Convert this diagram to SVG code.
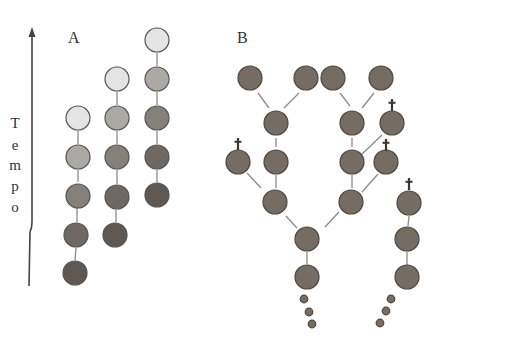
<svg xmlns="http://www.w3.org/2000/svg" width="510" height="342" viewBox="0 0 510 342">
<defs>
<style>
.lbl{font-family:"Liberation Serif",serif;font-size:16px;fill:#333}
.ax{font-family:"Liberation Serif",serif;font-size:15px;fill:#333;text-anchor:middle}
.n{stroke:#555;stroke-width:1.2}
.b{fill:#756c64;stroke:#4e4741;stroke-width:1.2}
.c1{fill:#e4e4e4}.c2{fill:#aca9a5}.c3{fill:#858079}.c4{fill:#6f6862}.c5{fill:#5f5852}
.ln{stroke:#8a8a8a;stroke-width:1.3;fill:none}
.dg{fill:#3c3632}
</style>
<symbol id="dag" viewBox="-4 -6 8 12" overflow="visible">
<rect x="-1.1" y="-6" width="2.2" height="12"/>
<rect x="-3.5" y="-3.2" width="7" height="2"/>
</symbol>
</defs>
<rect width="510" height="342" fill="#fff"/>
<g id="time-axis">
<path d="M32 36 L32 222 Q32 228 30 232 L29 286" stroke="#444" stroke-width="1.6" fill="none"/>
<polygon points="32,27 28.5,37 35.5,37" fill="#444"/>
<text class="ax" x="15" y="128">T</text>
<text class="ax" x="15" y="150">e</text>
<text class="ax" x="15" y="170">m</text>
<text class="ax" x="15" y="191">p</text>
<text class="ax" x="15" y="212">o</text>
</g>
<text class="lbl" x="68" y="43">A</text>
<text class="lbl" x="237" y="43">B</text>
<g id="connectors">
<line class="ln" x1="78" y1="131" x2="78" y2="144"/>
<line class="ln" x1="78" y1="170" x2="78" y2="182"/>
<line class="ln" x1="77" y1="208" x2="77" y2="222"/>
<line class="ln" x1="76" y1="248" x2="75" y2="260"/>
<line class="ln" x1="117" y1="92" x2="117" y2="105"/>
<line class="ln" x1="117" y1="131" x2="117" y2="144"/>
<line class="ln" x1="117" y1="170" x2="117" y2="184"/>
<line class="ln" x1="116" y1="210" x2="116" y2="222"/>
<line class="ln" x1="157" y1="53" x2="157" y2="66"/>
<line class="ln" x1="157" y1="92" x2="157" y2="105"/>
<line class="ln" x1="157" y1="131" x2="157" y2="144"/>
<line class="ln" x1="157" y1="170" x2="157" y2="182"/>
<line class="ln" x1="258" y1="93" x2="269" y2="108"/>
<line class="ln" x1="299" y1="93" x2="284" y2="108"/>
<line class="ln" x1="340" y1="93" x2="350" y2="106"/>
<line class="ln" x1="374" y1="93" x2="362" y2="108"/>
<line class="ln" x1="276" y1="138" x2="276" y2="147"/>
<line class="ln" x1="352" y1="138" x2="352" y2="147"/>
<line class="ln" x1="382" y1="135" x2="362" y2="154"/>
<line class="ln" x1="247" y1="173" x2="261" y2="188"/>
<line class="ln" x1="276" y1="175" x2="276" y2="188"/>
<line class="ln" x1="352" y1="175" x2="352" y2="188"/>
<line class="ln" x1="378" y1="174" x2="362" y2="192"/>
<line class="ln" x1="286" y1="216" x2="297" y2="228"/>
<line class="ln" x1="339" y1="212" x2="325" y2="227"/>
<line class="ln" x1="307" y1="252" x2="307" y2="264"/>
<line class="ln" x1="409" y1="216" x2="408" y2="226"/>
<line class="ln" x1="407" y1="252" x2="407" y2="265"/>
</g>
<g id="col1">
<circle class="n c1" cx="78" cy="118" r="12"/>
<circle class="n c2" cx="78" cy="157" r="12"/>
<circle class="n c3" cx="78" cy="196" r="12"/>
<circle class="n c4" cx="76" cy="235" r="12"/>
<circle class="n c5" cx="75" cy="273" r="12"/>
</g>
<g id="col2">
<circle class="n c1" cx="117" cy="79" r="12"/>
<circle class="n c2" cx="117" cy="118" r="12"/>
<circle class="n c3" cx="117" cy="157" r="12"/>
<circle class="n c4" cx="117" cy="197" r="12"/>
<circle class="n c5" cx="115" cy="235" r="12"/>
</g>
<g id="col3">
<circle class="n c1" cx="157" cy="40" r="12"/>
<circle class="n c2" cx="157" cy="79" r="12"/>
<circle class="n c3" cx="157" cy="118" r="12"/>
<circle class="n c4" cx="157" cy="157" r="12"/>
<circle class="n c5" cx="157" cy="195" r="12"/>
</g>
<g id="b1"><circle class="b" cx="250" cy="78" r="12"/></g>
<g id="b2"><circle class="b" cx="306" cy="78" r="12"/></g>
<g id="b3"><circle class="b" cx="333" cy="78" r="12"/></g>
<g id="b4"><circle class="b" cx="381" cy="78" r="12"/></g>
<g id="b5"><circle class="b" cx="276" cy="123" r="12"/></g>
<g id="b6"><circle class="b" cx="352" cy="123" r="12"/></g>
<g id="b7"><circle class="b" cx="392" cy="123" r="12"/><use href="#dag" x="388" y="99" width="8" height="12" class="dg"/></g>
<g id="b8"><circle class="b" cx="238" cy="162" r="12"/><use href="#dag" x="234" y="138" width="8" height="12" class="dg"/></g>
<g id="b9"><circle class="b" cx="276" cy="162" r="12"/></g>
<g id="b10"><circle class="b" cx="352" cy="162" r="12"/></g>
<g id="b11"><circle class="b" cx="386" cy="162" r="12"/><use href="#dag" x="382" y="139" width="8" height="12" class="dg"/></g>
<g id="b12"><circle class="b" cx="275" cy="202" r="12"/></g>
<g id="b13"><circle class="b" cx="351" cy="202" r="12"/></g>
<g id="b14"><circle class="b" cx="409" cy="203" r="12"/><use href="#dag" x="405" y="178" width="8" height="12" class="dg"/></g>
<g id="b15"><circle class="b" cx="307" cy="239" r="12"/></g>
<g id="b16"><circle class="b" cx="407" cy="239" r="12"/></g>
<g id="b17"><circle class="b" cx="307" cy="277" r="12"/></g>
<g id="b18"><circle class="b" cx="407" cy="277" r="12"/></g>
<g id="dots-left">
<circle class="b" cx="304" cy="299" r="3.8"/>
<circle class="b" cx="309" cy="312" r="3.8"/>
<circle class="b" cx="312" cy="324" r="3.8"/>
</g>
<g id="dots-right">
<circle class="b" cx="391" cy="299" r="3.8"/>
<circle class="b" cx="386" cy="311" r="3.8"/>
<circle class="b" cx="380" cy="323" r="3.8"/>
</g>
</svg>
